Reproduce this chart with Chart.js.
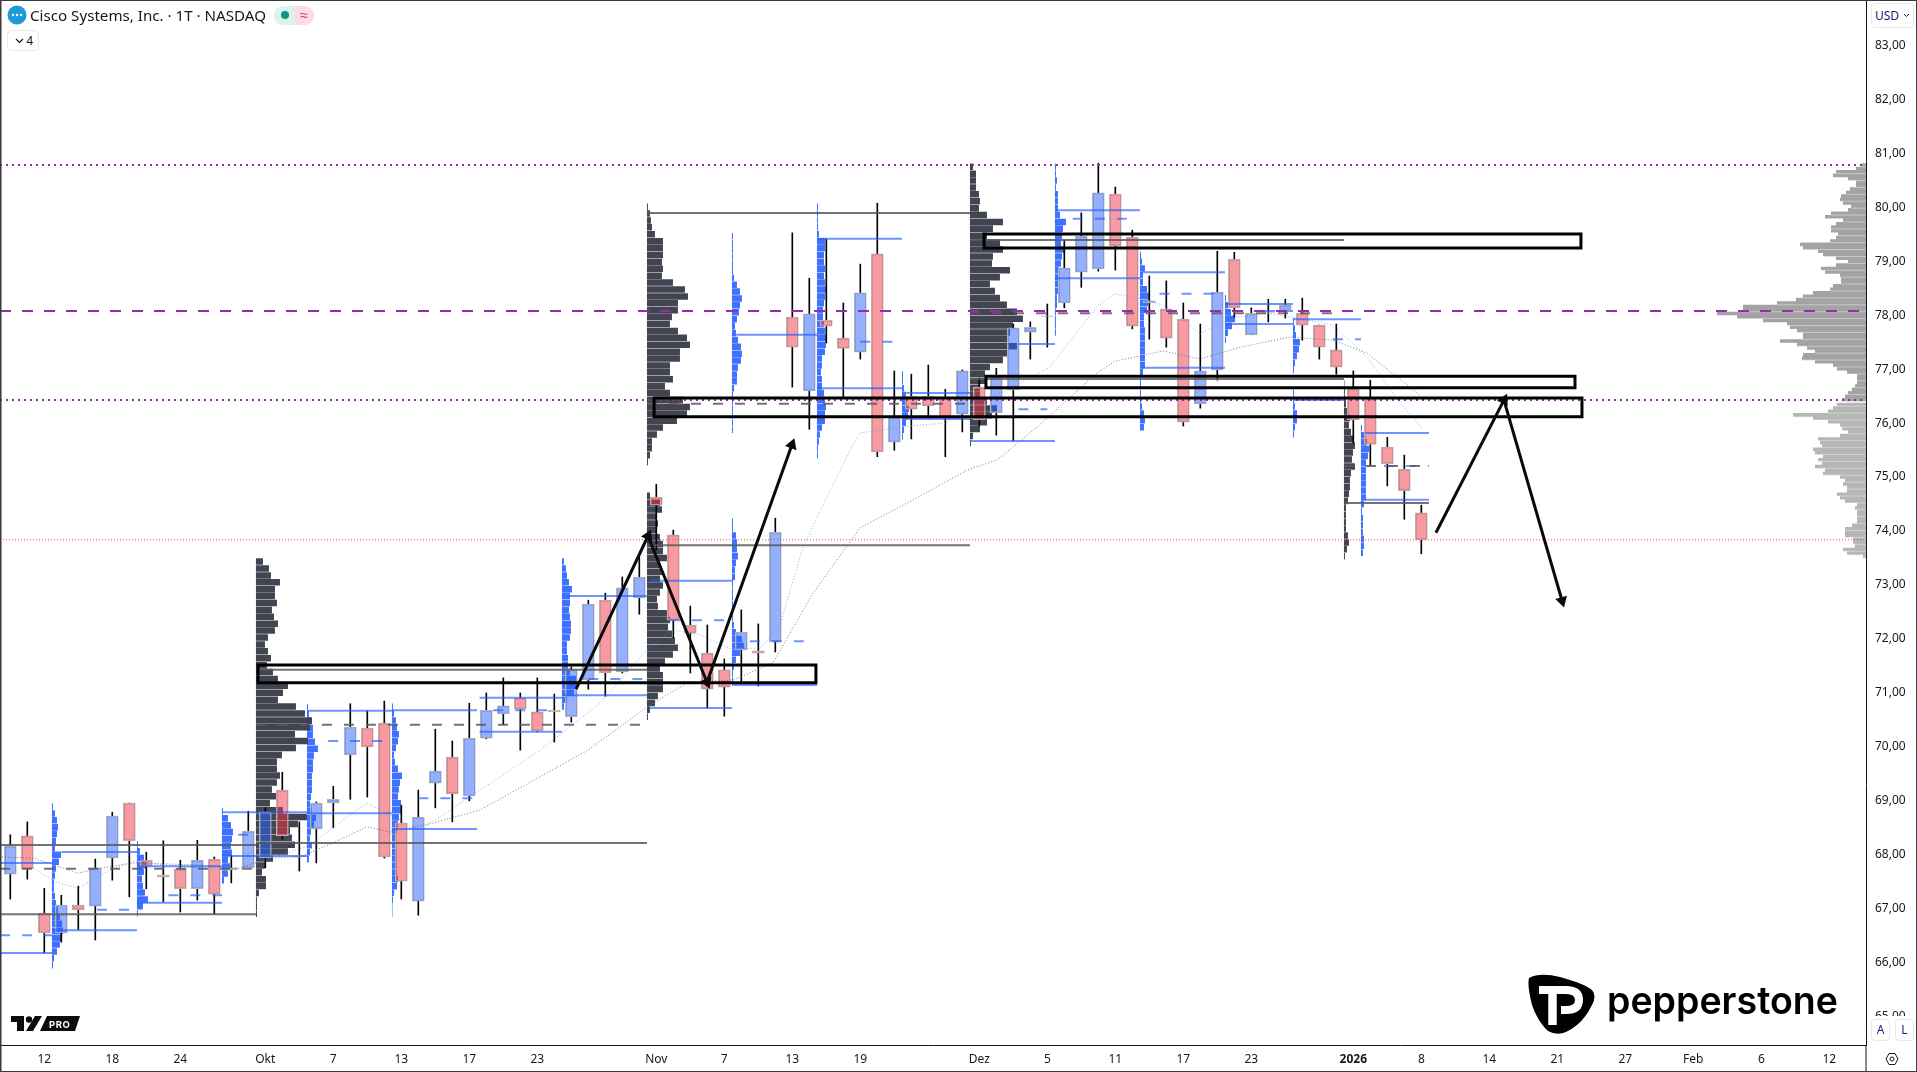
<!DOCTYPE html>
<html><head><meta charset="utf-8">
<style>
html,body{margin:0;padding:0;background:#fff;width:1917px;height:1072px;overflow:hidden;font-family:"Noto Sans",sans-serif;color:#131722}
#c{position:absolute;left:0;top:0}
.o{position:absolute;white-space:nowrap}
.btn{position:absolute;background:#fff;border:1px solid #e6e8ee;border-radius:4px;box-sizing:border-box;font-size:12px;text-align:center}
svg{position:absolute;left:0;top:0}
</style></head><body>
<canvas id="c" width="1917" height="1072"></canvas>
<svg width="1917" height="1072" style="pointer-events:none">
  <!-- Pepperstone -->
  <path d="M1529 978 Q1540 972 1560 977 Q1585 984 1592 990 Q1597 996 1592 1005 Q1583 1024 1566 1032 Q1557 1036 1548 1031 Q1538 1022 1532 1005 Q1527 985 1529 978 Z" fill="#000"/>
  <path d="M1539 990 H1566 Q1579 990 1579 1000 Q1579 1010 1566 1010 H1561" fill="none" stroke="#fff" stroke-width="8"/>
  <path d="M1552.5 992 V1025" fill="none" stroke="#fff" stroke-width="8.5"/>
  <text x="1607" y="1014" font-family="Inter" font-weight="600" font-size="38" textLength="231" lengthAdjust="spacingAndGlyphs" fill="#000">pepperstone</text>
  <!-- TV logo -->
  <path d="M11 1016 H24 V1031 H17 V1022 H11 Z" fill="#0c0c0c"/>
  <circle cx="29" cy="1019.5" r="3.2" fill="#0c0c0c"/>
  <path d="M26 1031 L35 1016 H42 L33 1031 Z" fill="#0c0c0c"/>
  <path d="M40 1031 L47 1016 H80 L75 1031 Z" fill="#0c0c0c"/>
  <text x="49" y="1027.5" font-family="Inter" font-weight="700" font-size="9.5" letter-spacing=".5" fill="#fff">PRO</text>
  <!-- header icon -->
  <circle cx="17" cy="15" r="9.5" fill="#1c9bd8"/>
  <circle cx="13" cy="15" r="1.2" fill="#fff"/><circle cx="17" cy="15" r="1.2" fill="#fff"/><circle cx="21" cy="15" r="1.2" fill="#fff"/>
  <!-- settings -->
  <path d="M1886 1059 L1889 1053.5 H1895 L1898 1059 L1895 1064.5 H1889 Z" fill="none" stroke="#131722" stroke-width="1"/>
  <circle cx="1892" cy="1059" r="2" fill="none" stroke="#131722" stroke-width="1"/>
  <!-- frame -->
  <path d="M1866 1045 V1072" stroke="#131722" stroke-width="1" fill="none"/>
  <rect x="0.5" y="0.5" width="1916" height="1071" fill="none" stroke="#3a3a3a" stroke-width="1"/>
  <path d="M1 0 V1072" stroke="#3a3a3a" stroke-width="1"/>
</svg>
<div class="o" style="left:30px;top:5px;font-size:15.15px;line-height:20px">Cisco Systems, Inc. · 1T · NASDAQ</div>
<div class="o" style="left:274px;top:6px;width:20px;height:19px;background:#dcf2ed;border-radius:9px 0 0 9px"></div>
<div class="o" style="left:294px;top:6px;width:20px;height:19px;background:#fbdde7;border-radius:0 9px 9px 0;color:#e91e63;font-size:14px;line-height:18px;text-align:center">≈</div>
<div class="o" style="left:281px;top:11px;width:8px;height:8px;border-radius:4px;background:#089981"></div>
<div class="btn" style="left:7px;top:30px;width:32px;height:21px;line-height:19px;text-align:right;padding-right:5px">4</div>
<svg width="20" height="20" style="left:15px;top:37px"><path d="M1 2 L4.5 5.5 L8 2" fill="none" stroke="#131722" stroke-width="1.2"/></svg>
<div class="btn" style="left:1871px;top:3px;width:43px;height:25px;line-height:23px;text-align:left;padding-left:3px;color:#1a237e">USD</div>
<svg width="10" height="10" style="left:1903px;top:13px"><path d="M1 1 L3.5 3.5 L6 1" fill="none" stroke="#131722" stroke-width="1"/></svg>
<div class="o" style="left:1867px;top:1016px;width:49px;height:28px;background:#fff"></div>
<div class="btn" style="left:1871px;top:1019px;width:19px;height:22px;line-height:20px;color:#1a237e">A</div>
<div class="btn" style="left:1895px;top:1019px;width:19px;height:22px;line-height:20px;color:#1a237e">L</div>

<script src="https://cdn.jsdelivr.net/npm/chart.js@4/dist/chart.umd.min.js"></script>
<script>
// ---- candles (one trading day per index, 12 Sep 2025 is index 2) ----
const open=[67.59,68.30,66.87,66.50,67.02,67.00,67.89,68.91,67.85,67.58,67.69,67.32,67.87,67.67,67.71,67.89,69.15,67.93,68.43,68.91,69.80,70.30,70.39,68.54,67.09,69.28,69.76,69.04,70.11,70.56,70.86,70.60,70.63,70.51,71.19,72.67,71.34,72.71,74.58,73.88,72.21,71.69,71.38,71.75,71.73,71.90,77.92,76.55,77.86,77.53,77.27,79.09,75.60,76.45,76.45,76.42,76.12,76.62,76.14,76.57,77.64,77.93,78.18,78.75,78.81,80.20,79.40,78.18,78.07,77.88,76.31,76.94,78.99,77.59,78.00,78.05,77.99,77.77,77.31,76.58,76.40,75.51,75.10,74.29];
const high=[68.32,68.56,67.33,67.20,67.37,67.87,68.74,68.91,68.00,68.21,67.85,68.22,67.91,67.94,68.76,68.82,69.48,68.56,68.93,69.22,70.75,70.62,70.80,68.87,69.15,70.28,70.06,70.76,70.95,71.23,70.95,71.23,70.93,71.43,72.67,72.80,73.10,73.47,74.82,73.97,72.56,72.21,71.58,72.49,72.23,74.19,79.48,78.64,79.37,78.18,78.90,80.03,76.92,76.86,77.03,76.58,76.94,76.79,76.97,77.79,77.83,78.16,79.35,79.85,80.77,80.33,79.53,78.68,78.59,78.18,77.79,79.14,79.12,78.09,78.25,78.25,78.27,77.77,77.79,76.92,76.75,75.69,75.36,74.43];
const low=[67.13,67.50,66.13,66.33,66.56,66.37,67.48,67.17,67.32,67.08,66.89,67.11,66.85,67.43,67.71,67.71,68.24,67.65,67.80,68.45,68.98,69.02,67.89,67.13,66.83,68.82,68.56,68.95,70.10,70.36,69.89,70.23,70.04,70.41,71.02,70.89,71.32,72.41,73.60,71.97,71.32,70.67,70.52,71.15,71.08,71.71,76.62,75.84,77.44,76.44,77.14,75.33,75.45,75.66,76.07,75.33,75.79,75.90,75.73,75.62,77.14,77.36,78.09,78.47,78.77,78.79,77.70,77.51,77.36,75.90,76.23,76.75,77.92,77.59,77.83,77.90,77.49,77.14,76.86,75.58,75.16,74.79,74.17,73.53];
const close=[68.11,67.69,66.50,67.02,66.93,67.71,68.67,68.21,67.74,67.54,67.32,67.85,67.22,67.71,68.39,68.74,68.30,67.91,68.91,68.98,70.32,69.95,67.91,67.46,68.65,69.50,69.08,70.11,70.63,70.71,70.65,70.25,70.60,71.38,72.60,71.32,72.90,73.10,74.43,72.30,72.06,71.02,71.06,72.08,71.69,73.93,77.36,77.98,77.75,77.34,78.37,75.42,76.07,76.21,76.27,76.05,76.92,76.01,76.81,77.72,77.73,77.94,78.83,79.42,80.22,79.24,77.75,78.22,77.53,75.97,76.92,78.38,78.09,77.99,77.99,78.14,77.77,77.36,76.99,76.01,75.56,75.20,74.70,73.79];
// ---- time axis ----
const tickIndex=[2,6,10,15,19,23,27,31,38,42,46,50,57,61,65,69,73,79,83,87,91,95,99,103,107];
const tickLabels=["12","18","24","Okt","7","13","17","23","Nov","7","13","19","Dez","5","11","17","23","2026","8","14","21","27","Feb","6","12"];
const priceTicks=[83,82,81,80,79,78,77,76,75,74,73,72,71,70,69,68,67,66,65];
// ---- horizontal key levels ----
const levelHigh=80.74, levelMid=78.03, levelLow=76.38, levelLast=73.79;
// ---- session level lines: from index, to index, price ----
const blueFrom=[-0.6,-0.6,3,2.45,7.45,7.45,12.45,12.45,17.45,17.45,22.45,22.45,27.6,27.6,32.8,32.45,37.6,37.6,42.45,42.7,47.45,47.45,52.7,52.45,56.45,59.3,61.45,61.45,66.6,66.6,71.45,71.45,75.45,75.45,79.7,79.7];
const blueTo=[2.45,2.45,7.45,7.45,12.45,12.45,17.45,17.45,22.45,22.45,27.45,27.45,32.45,32.45,37.45,37.45,42.45,42.45,47.45,47.45,52.45,52.45,56.45,56.45,61.45,61.45,66.45,66.45,71.45,71.45,75.45,75.45,79.45,78.45,83.45,83.45];
const bluePrice=[66.13,67.80,68.00,66.55,67.74,67.06,68.74,67.93,70.62,68.72,70.63,68.43,70.86,70.23,72.75,70.91,73.03,70.67,71.10,77.59,79.37,76.60,76.51,76.03,75.62,77.42,79.90,78.64,78.75,76.98,78.16,77.79,77.88,76.38,75.77,74.53];
const bluePocFrom=[-0.6,5.1,9.3,13.4,18.7,24,28.4,34,38.8,43.5,50,59.3,62.5,67.6,73.8,77.8,80.8];
const bluePocTo=[2.45,7.45,12.45,14.5,22.45,27.45,32,37.4,42.45,47,52,61,66,71,75.45,79.45,83.45];
const bluePocPrice=[66.46,66.93,67.20,68.32,70.06,69.00,70.63,71.21,72.30,71.91,77.46,76.21,79.74,78.35,78.03,77.51,75.16];
const grayFrom=[-0.6,-0.6,14.45,14.45,37.45,37.45,56.45,56.45,78.45];
const grayTo=[14.45,14.45,37.45,37.45,56.45,56.45,78.45,78.45,83.45];
const grayPrice=[68.13,66.85,68.17,71.38,73.69,79.85,79.35,76.77,74.47];
const grayPocFrom=[-0.6,14.45,37.45,56.45,78.45];
const grayPocTo=[14.45,37.45,56.45,78.45,83.45];
const grayPocPrice=[67.69,70.36,76.31,77.99,75.16];
// ---- moving averages ----
const maBlueX=[1.34,2.63,3.98,5.86,7.22,11.16,13.51,14.98,17.63,19.98,20.98,21.98,24.1,25.87,27.63,31.16,34.69,37.45,38.98,40.57,42.34,44.1,45.28,46.63,48.04,49.4,49.98,53.51,54.98,57.45,61.16,63.92,64.98,66.87,68.04,69.98,71.92,73.92,75.28,77.81,79.81,81.75,83.04];
const maBlueY=[67.70,67.45,67.33,67.67,67.82,67.70,67.70,67.85,68.13,68.69,68.91,68.74,68.41,68.78,69.15,69.89,70.76,71.75,72.12,72.03,71.77,71.78,72.21,73.66,74.58,75.45,75.77,75.92,75.95,76.38,76.99,78.11,78.35,78.24,78.11,77.61,77.90,77.99,77.92,77.77,77.18,76.33,75.86];
const maGrayX=[-0.49,1.34,3.98,5.28,7.22,11.16,13.51,15.1,17.04,18.98,20.98,22.34,24.87,27.63,33.98,37.45,39.87,42.51,44.87,47.22,49.98,53.1,56.28,58.04,60.4,63.92,64.98,67.81,69.98,72.34,75.28,77.81,79.81,82.93];
const maGrayY=[67.91,67.89,67.61,67.70,67.80,67.76,67.70,67.89,67.91,68.17,68.47,68.37,68.54,68.78,69.89,70.69,71.15,71.19,71.51,72.80,74.01,74.53,75.08,75.27,75.88,76.88,77.10,77.29,77.14,77.36,77.55,77.49,77.25,76.47];
// ---- session volume profiles (top price, volume per row from the top) ----
const darkA=[7,13,15,24,19,19,21,16,18,22,19,12,9,12,15,11,17,22,32,27,22,40,49,56,54,39,52,40,26,21,21,24,21,16,21,14,27,51,42,34,36,39,32,17,9,6,10,10,3,1,1,1];
const darkB=[3,13,15,10,11,10,13,16,16,20,13,15,13,16,13,10,11,20,23,21,25,28,31,26,18,13,16,16,16,11,8,3,1];
const darkC=[1,3,4,5,8,16,16,16,15,16,15,26,38,41,31,31,25,23,31,40,43,33,33,23,23,26,18,23,36,43,40,30,16,10,5,5,3,1];
const darkD=[3,6,6,6,9,10,9,17,33,23,17,30,33,23,22,40,30,20,25,30,37,47,53,43,40,38,47,38,33,20,15,17,10,10,17,27,22,17,10,3,1];
const darkE=[0.5,1,1,2,3,6,5,7,10,11,9,8,11,7,6,6,5,4,2,2,2,2,4,5,3,1];
const darkAnchor=[14.45,37.45,37.45,56.45,78.45];
const darkTop=[73.45,74.67,80.03,80.77,76.75];
const blue1=[1,3,5,6,5,4,3,9,7,4,3,2,2,3,4,6,8,10,11,10,8,5,2,1];
const blue2=[1,3,7,10,7,5,6,8,11,6,1];
const blue3=[1,6,9,11,10,9,10,6,8,6,2];
const blue4=[1,2,5,6,6,8,11,7,6,6,5,5,5,4,3,5,9,7,4,3,5,3,2];
const blue5=[1,2,4,5,7,6,4,2,3,6,10,8,7,6,9,10,7,6,5,4,3,5,5,5,5,6,5,2,1,0.5,0.5];
const blue6=[2,4,5,7,10,8,8,7,8,9,9,8,5,5,6,6,8,14,15,12,5,2];
const blue7=[1,1,4,5,5,6,4,3,3,1,1,1,1,1,1,2,4,10,12,8,4,2,1,1];
const blue8=[1,1,1,1,1,1,2,5,8,10,8,7,5,3,4,6,9,10,9,6,5,5,2,1,1,1,1,1,1];
const blue9=[1,1,1,1,2,8,8,7,7,8,7,8,9,8,7,6,6,7,8,10,9,8,5,5,4,5,5,7,8,9,8,8,5,3,2,1,1];
const blue10=[1,1,2,4,5,7,6,4,2,1];
const blue11=[1,1,2,1,3,3,3,5,11,8,7,6,10,7,6,4,3,3,3,2,2,1,1,1,1];
const blue12=[1,2,5,3,3,7,9,8,7,4,4,5,5,5,5,5,5,3,1,1,1,1,2,4,5,4];
const blue13=[1,3,6,10,7,3,1];
const blue14=[1,2,3,7,6,4,2,1];
const blue15=[1,1,2,4,4,2,1];
const blue16=[1,4,6,8,7,5,5,5,5,5,5,3,1,2,2,2,3,3,2];
const blueAnchor=[2.45,7.45,12.45,17.45,22.45,32.45,42.45,42.45,47.45,52.45,61.45,66.45,71.45,75.45,75.45,79.45];
const blueTop=[68.91,68.21,68.82,70.75,70.76,73.45,74.19,79.48,80.03,76.92,80.77,79.14,78.33,77.90,76.58,75.92];
// ---- visible range volume profile ----
const rangeUpper=[5,10,30,33,18,10,10,16,20,25,26,23,15,18,35,41,23,30,35,35,28,30,36,66,63,48,43,30,18,30,45,41,26,25,25,33,36,53,63,70,89,123,123,149,129,103,79,76,69,63,63,86,69,59,51,63,64,51,33,29,19,9,9,9,11,14,18,21,24];
const rangeLower=[29,33,38,73,53,38,26,24,18,26,48,46,44,53,51,43,48,44,51,41,43,26,21,23,19,19,29,26,21,9,11,9,9,9,9,14,21,21,21,13,13,11,23,19,3];
const rangeTop=80.77, rangeLowerTop=76.33;
// ---- drawings: zones and arrows ----
const zoneFrom=[14.57,37.87,57.39,57.28];
const zoneTo=[47.39,92.45,92.04,92.39];
const zoneHigh=[71.47,76.42,76.82,79.46];
const zoneLow=[71.14,76.07,76.61,79.20];
const arrowX1=[33.28,37.51,40.98,83.86,87.86];
const arrowY1=[71.02,73.86,71.15,73.92,76.38];
const arrowX2=[37.51,40.98,45.98,87.86,91.28];
const arrowY2=[73.86,71.15,75.55,76.38,72.66];
const arrowAngle=[25,158,20,27,164];

const N=open.length, VOL_PER_BAR=17;
const idx=Array.from({length:N},(_,i)=>i);
const segs=(f,t,p)=>f.flatMap((v,k)=>[{x:v,y:p[k]},{x:t[k],y:p[k]},{x:t[k],y:NaN}]);
const rows=(base,dir,top,step,w)=>w.flatMap((v,k)=>{const y=top-(k+.5)*step;return[{x:base,y},{x:base+dir*v/VOL_PER_BAR,y},{x:base,y:NaN}]});
const everyOther=a=>a.filter((_,k)=>k%2===0);
const lineDs=(data,color,width,dash,order,extra)=>Object.assign({type:'line',data,borderColor:color,borderWidth:width,borderDash:dash||[],pointRadius:0,fill:false,tension:0,order,spanGaps:false,borderCapStyle:'butt',borderJoinStyle:'miter'},extra||{});
const full=[-0.606,109.158];
const hline=(p)=>[{x:full[0],y:p},{x:full[1],y:p}];
const BLUE='rgba(41,98,255,.68)',PROF_BLUE='rgba(41,98,255,.9)',PROF_DARK='rgba(62,65,76,.98)',LINE_GRAY='rgba(90,90,90,.85)';
const datasets=[
 lineDs(rows(109.158,-1,rangeTop,0.064,rangeUpper),'#a3a3a3',3.6,[],12),
 lineDs(rows(109.158,-1,rangeLowerTop,0.064,rangeLower),'#b6b6b6',3.6,[],12),
 lineDs(rows(109.158,-1,rangeTop,0.128,everyOther(rangeUpper)),'rgba(255,255,255,.4)',1,[],11),
 lineDs(rows(109.158,-1,rangeLowerTop,0.128,everyOther(rangeLower)),'rgba(255,255,255,.4)',1,[],11),
 {type:'bar',data:idx.map(i=>({x:i,y:[low[i],Math.min(open[i],close[i])]})),backgroundColor:'#000',barThickness:1,grouped:false,order:9},
 {type:'bar',data:idx.map(i=>({x:i,y:[Math.max(open[i],close[i]),high[i]]})),backgroundColor:'#000',barThickness:1,grouped:false,order:9},
 {type:'bar',data:idx.map(i=>({x:i,y:[open[i],close[i]]})),backgroundColor:idx.map(i=>close[i]>=open[i]?'rgba(41,98,255,.5)':'rgba(242,54,69,.5)'),borderColor:'#b5b5b5',borderWidth:1,borderSkipped:false,barThickness:12,grouped:false,order:8},
 lineDs(maBlueX.map((x,k)=>({x,y:maBlueY[k]})),'rgba(90,140,255,.7)',1,[1,2],7),
 lineDs(maGrayX.map((x,k)=>({x,y:maGrayY[k]})),'rgba(100,100,100,.85)',1,[1,2],7),
 lineDs(segs(grayFrom,grayTo,grayPrice),LINE_GRAY,2,[],6),
 lineDs(segs(grayPocFrom,grayPocTo,grayPocPrice),LINE_GRAY,2,[10,12],6),
 lineDs(segs(blueFrom,blueTo,bluePrice),BLUE,2,[],6),
 lineDs(segs(bluePocFrom,bluePocTo,bluePocPrice),BLUE,2,[10,12],6),
];
[darkA,darkB,darkC,darkD,darkE].forEach((w,k)=>datasets.push(lineDs(rows(darkAnchor[k],1,darkTop[k],0.128,w),PROF_DARK,6.5,[],10)));
[blue1,blue2,blue3,blue4,blue5,blue6,blue7,blue8,blue9,blue10,blue11,blue12,blue13,blue14,blue15,blue16].forEach((w,k)=>datasets.push(lineDs(rows(blueAnchor[k],1,blueTop[k],0.128,w),PROF_BLUE,6.5,[],10)));
datasets.push(lineDs(hline(levelHigh),'#9c27b0',2,[2,4],3));
datasets.push(lineDs(hline(levelMid),'#9c27b0',2,[11,11],3));
datasets.push(lineDs(hline(levelLow),'#9c27b0',2,[2,4],3));
datasets.push(lineDs(hline(levelLast),'rgba(245,60,90,.95)',1,[1,2],3));
zoneFrom.forEach((f,k)=>datasets.push(lineDs([{x:f,y:zoneHigh[k]},{x:zoneTo[k],y:zoneHigh[k]},{x:zoneTo[k],y:zoneLow[k]},{x:f,y:zoneLow[k]},{x:f,y:zoneHigh[k]}],'#000',3,[],2,{borderCapStyle:'square'})));
arrowX1.forEach((x,k)=>datasets.push(lineDs([{x,y:arrowY1[k]},{x:arrowX2[k],y:arrowY2[k]}],'#0a0a0a',3,[],1,{pointRadius:[0,7],pointStyle:'triangle',pointRotation:[0,arrowAngle[k]],pointBackgroundColor:'#0a0a0a',pointBorderColor:'#0a0a0a',pointBorderWidth:0})));

new Chart(document.getElementById('c'),{
 type:'bar',
 data:{datasets},
 options:{
  responsive:false,animation:false,events:[],
  layout:{padding:0,autoPadding:false},
  plugins:{legend:{display:false},tooltip:{enabled:false},title:{display:false}},
  scales:{
   x:{type:'linear',position:'bottom',offset:false,min:-0.606,max:109.158,
      grid:{display:false,drawTicks:false},border:{display:true,color:'#131722',width:1},
      afterBuildTicks(s){s.ticks=tickIndex.map(value=>({value}))},
      afterFit(s){s.height=27;s.paddingLeft=0;s.paddingRight=0},
      ticks:{autoSkip:false,maxRotation:0,minRotation:0,padding:7,color:'#131722',
        font:c=>({family:'"Noto Sans"',size:12,weight:c.tick&&c.tick.value===79?'bold':'normal'}),
        callback:v=>tickLabels[tickIndex.indexOf(v)]}},
   y:{type:'linear',position:'right',min:64.424,max:83.797,
      grid:{display:false,drawTicks:false},border:{display:true,color:'#131722',width:1},
      afterBuildTicks(s){s.ticks=priceTicks.map(value=>({value}))},
      afterFit(s){s.width=51;s.paddingTop=0;s.paddingBottom=0},
      ticks:{autoSkip:false,padding:9,labelOffset:2.5,color:'#131722',font:{family:'"Noto Sans"',size:12},
        callback:v=>v.toFixed(2).replace('.',',')}}
  }
 }
});
</script>
</body></html>
